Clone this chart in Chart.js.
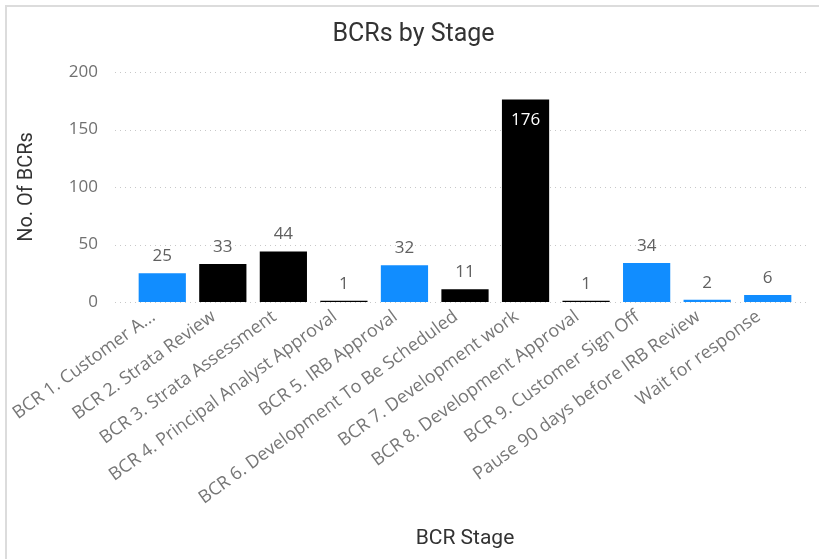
<!DOCTYPE html>
<html>
<head>
<meta charset="utf-8">
<script src="https://cdn.jsdelivr.net/npm/chart.js@4"></script>
<style>
  html, body { margin: 0; padding: 0; background: #fff; }
  #wrap { position: relative; width: 819px; height: 559px; overflow: hidden; }
  #frame { position: absolute; left: 5px; top: 5px; width: 830px; height: 570px;
           border-left: 2px solid #dcdcdc; border-top: 2px solid #dcdcdc; }
  canvas { position: absolute; left: 0; top: 0; }
</style>
</head>
<body>
<div id="wrap">
  <div id="frame"></div>
  <canvas id="stageChart" width="819" height="559"></canvas>
</div>
<script>
const stages = [
  'BCR 1. Customer A...',
  'BCR 2. Strata Review',
  'BCR 3. Strata Assessment',
  'BCR 4. Principal Analyst Approval',
  'BCR 5. IRB Approval',
  'BCR 6. Development To Be Scheduled',
  'BCR 7. Development work',
  'BCR 8. Development Approval',
  'BCR 9. Customer Sign Off',
  'Pause 90 days before IRB Review',
  'Wait for response'
];
const bcrCounts = [25, 33, 44, 1, 32, 11, 176, 1, 34, 2, 6];
const barColors = ['#118DFF', '#000000', '#000000', '#000000', '#118DFF', '#000000',
                   '#000000', '#000000', '#118DFF', '#118DFF', '#118DFF'];
const yTicks = [0, 50, 100, 150, 200];

const labelFont = '"Open Sans", "Segoe UI", sans-serif';
const headFont = 'Roboto, "DejaVu Sans", sans-serif';

// dotted horizontal gridlines that run a little past the plot area
const dottedGrid = {
  id: 'dottedGrid',
  beforeDatasetsDraw(chart) {
    const {ctx, chartArea, scales: {y}} = chart;
    ctx.save();
    ctx.strokeStyle = '#c8c8c8';
    ctx.lineWidth = 1;
    ctx.setLineDash([1, 4]);
    yTicks.forEach(v => {
      const py = Math.round(y.getPixelForValue(v)) + 0.5;
      ctx.beginPath();
      ctx.moveTo(chartArea.left - 17, py);
      ctx.lineTo(chartArea.right + 12, py);
      ctx.stroke();
    });
    ctx.restore();
  }
};

// value labels above each bar (inside for the tall one)
const valueLabels = {
  id: 'valueLabels',
  afterDatasetsDraw(chart) {
    const {ctx, chartArea} = chart;
    const meta = chart.getDatasetMeta(0);
    ctx.save();
    ctx.font = '17px ' + labelFont;
    ctx.textAlign = 'center';
    ctx.textBaseline = 'middle';
    meta.data.forEach((bar, i) => {
      const v = bcrCounts[i];
      if (bar.y - chartArea.top < 40) {
        ctx.fillStyle = '#ffffff';
        ctx.fillText(v, bar.x, bar.y + 21);
      } else {
        ctx.fillStyle = '#606060';
        ctx.fillText(v, bar.x, bar.y - 17);
      }
    });
    ctx.restore();
  }
};

new Chart(document.getElementById('stageChart'), {
  type: 'bar',
  data: {
    labels: stages,
    datasets: [{
      data: bcrCounts,
      backgroundColor: barColors,
      barPercentage: 0.78,
      categoryPercentage: 1
    }]
  },
  options: {
    responsive: false,
    animation: false,
    layout: { padding: { left: 8, right: 0, top: 0, bottom: 0 } },
    plugins: {
      legend: { display: false },
      tooltip: { enabled: false },
      title: {
        display: true,
        text: 'BCRs by Stage',
        color: '#333333',
        font: { family: headFont, size: 25, weight: 'normal' },
        padding: { top: 20, bottom: 22 }
      }
    },
    scales: {
      x: {
        grid: { display: false, drawTicks: false },
        border: { display: false },
        ticks: {
          autoSkip: false,
          minRotation: 36,
          maxRotation: 36,
          padding: 4,
          labelOffset: -9,
          color: '#767676',
          font: { family: labelFont, size: 18 }
        },
        title: {
          display: true,
          text: 'BCR Stage',
          color: '#333333',
          font: { family: headFont, size: 21 },
          padding: { top: 0, bottom: 8 }
        },
        afterFit(scale) { scale.height = 257; }
      },
      y: {
        min: 0,
        max: 200,
        grid: { display: false, drawTicks: false },
        border: { display: false },
        afterBuildTicks(scale) { scale.ticks = yTicks.map(v => ({ value: v })); },
        ticks: {
          padding: 34,
          color: '#707070',
          font: { family: labelFont, size: 17 }
        },
        title: {
          display: true,
          text: 'No. Of BCRs',
          color: '#333333',
          font: { family: headFont, size: 20 },
          padding: { top: 7, bottom: 0 }
        },
        afterFit(scale) { scale.width = 124; }
      },
      // empty right-hand strip so the plot stops short of the edge
      yRight: {
        position: 'right',
        grid: { display: false, drawTicks: false },
        border: { display: false },
        ticks: { display: false },
        afterFit(scale) { scale.width = 21; }
      }
    }
  },
  plugins: [dottedGrid, valueLabels]
});
</script>
</body>
</html>
